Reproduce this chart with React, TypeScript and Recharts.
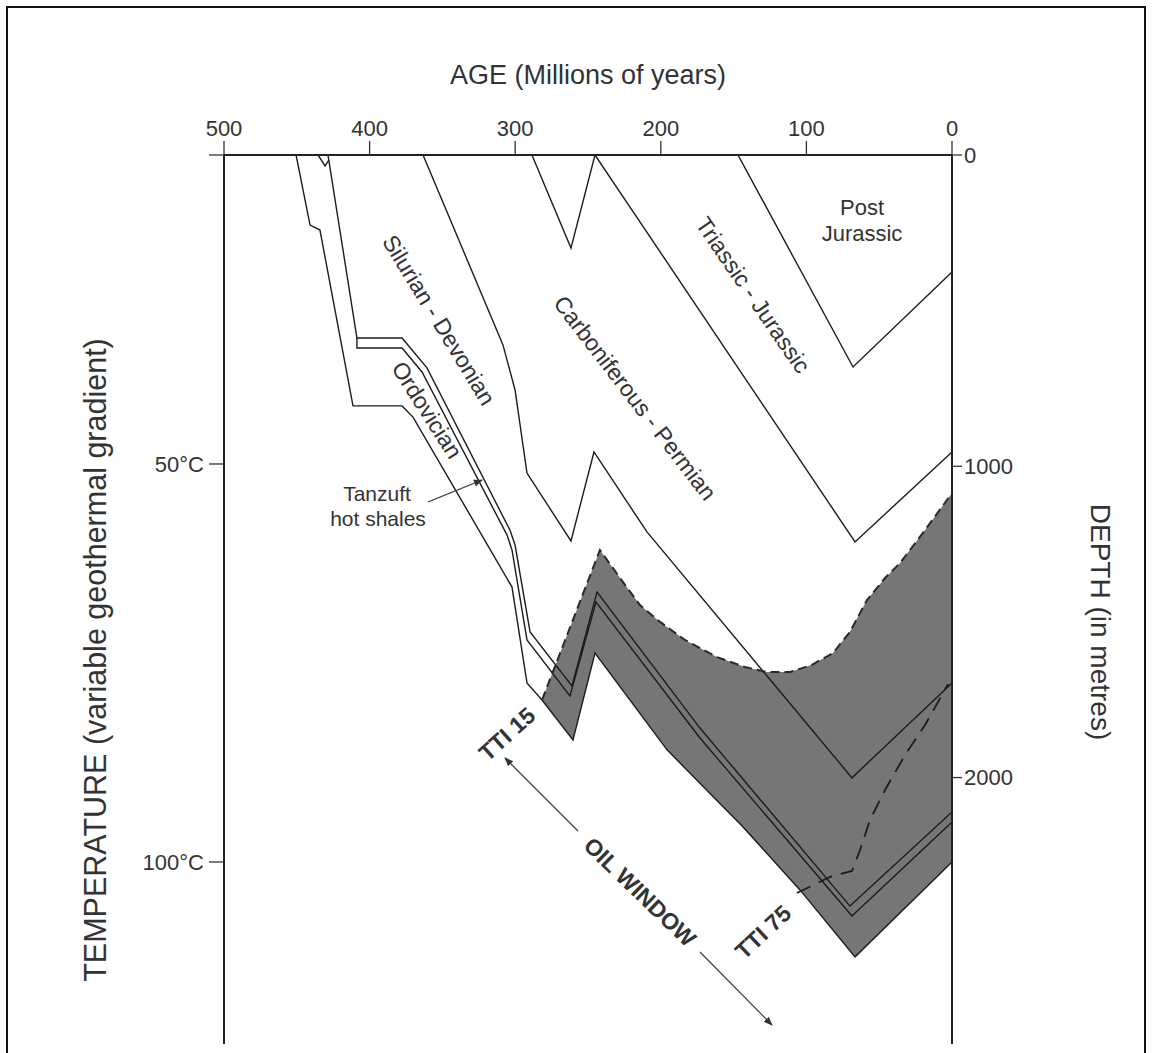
import React from 'react';
import { ComposedChart, Line, Area, XAxis, YAxis, ReferenceLine } from 'recharts';

// ---- axis ticks ----
const ageTicks = [500, 400, 300, 200, 100, 0];
const depthTicks = [0, 1000, 2000];
const tempTicks = [11.18, 50, 100];
const tempLabels: Record<string, string> = { '11.18': '', '50': '50°C', '100': '100°C' };
const ageDomain = [0, 500];
const depthDomain = [0, 2856];
const tempDomain = [11.18, 122.87];

// ---- horizons (age in Ma, depth in m) ----
const baseOrdovician = [
  { age: 450.5, depth: 0 },
  { age: 440.9, depth: 225 },
  { age: 434.1, depth: 241 },
  { age: 411.4, depth: 806 },
  { age: 377.7, depth: 806 },
  { age: 370.2, depth: 842 },
  { age: 302.2, depth: 1388 },
  { age: 291.9, depth: 1696 },
  { age: 281.6, depth: 1751 },
  { age: 260.3, depth: 1879 },
  { age: 245.2, depth: 1600 },
  { age: 195.7, depth: 1911 },
  { age: 143.5, depth: 2159 },
  { age: 104.4, depth: 2361 },
  { age: 66.6, depth: 2576 },
  { age: 0, depth: 2271 },
];
// the part of the base Ordovician that bounds the oil window from below
const baseOrdovicianLower = baseOrdovician.slice(8);

const tanzuftTop = [
  { age: 428.6, depth: 0 },
  { age: 408.7, depth: 588 },
  { age: 377.7, depth: 588 },
  { age: 360.6, depth: 684 },
  { age: 303.6, depth: 1205 },
  { age: 300.1, depth: 1253 },
  { age: 289.8, depth: 1532 },
  { age: 261.0, depth: 1706 },
  { age: 243.8, depth: 1404 },
  { age: 173.1, depth: 1841 },
  { age: 70.1, depth: 2413 },
  { age: 0, depth: 2111 },
];

const tanzuftBase = [
  { age: 408.7, depth: 588 },
  { age: 408.7, depth: 620 },
  { age: 377.7, depth: 620 },
  { age: 364.0, depth: 697 },
  { age: 305.6, depth: 1221 },
  { age: 302.2, depth: 1269 },
  { age: 291.9, depth: 1558 },
  { age: 262.4, depth: 1738 },
  { age: 244.5, depth: 1436 },
  { age: 173.1, depth: 1873 },
  { age: 68.7, depth: 2445 },
  { age: 0, depth: 2143 },
];

const tanzuftNotch = [
  { age: 435.4, depth: 0 },
  { age: 430.6, depth: 35 },
  { age: 427.9, depth: 16 },
];

const baseCarboniferous = [
  { age: 363.3, depth: 0 },
  { age: 308.4, depth: 610 },
  { age: 300.1, depth: 755 },
  { age: 291.9, depth: 1022 },
  { age: 261.7, depth: 1240 },
  { age: 245.9, depth: 954 },
  { age: 209.5, depth: 1211 },
  { age: 68.7, depth: 2001 },
  { age: 0, depth: 1696 },
];

const topPermian = [
  { age: 288.5, depth: 0 },
  { age: 261.7, depth: 299 },
  { age: 245.2, depth: 0 },
];

const baseTriassic = [
  { age: 245.2, depth: 0 },
  { age: 66.6, depth: 1243 },
  { age: 0, depth: 954 },
];

const basePostJurassic = [
  { age: 147.0, depth: 0 },
  { age: 68.0, depth: 681 },
  { age: 0, depth: 376 },
];

// ---- maturity lines ----
const tti15 = [
  { age: 281.6, depth: 1751 },
  { age: 241.8, depth: 1269 },
  { age: 228.0, depth: 1359 },
  { age: 214.3, depth: 1446 },
  { age: 200.5, depth: 1500 },
  { age: 183.4, depth: 1558 },
  { age: 161.4, depth: 1613 },
  { age: 142.2, depth: 1645 },
  { age: 127.1, depth: 1661 },
  { age: 111.3, depth: 1661 },
  { age: 96.2, depth: 1638 },
  { age: 81.7, depth: 1600 },
  { age: 70.1, depth: 1532 },
  { age: 58.4, depth: 1430 },
  { age: 46.0, depth: 1359 },
  { age: 35.7, depth: 1311 },
  { age: 18.5, depth: 1205 },
  { age: 0, depth: 1086 },
];

const tti75 = [
  { age: 106.5, depth: 2371 },
  { age: 83.8, depth: 2319 },
  { age: 68.7, depth: 2300 },
  { age: 63.2, depth: 2233 },
  { age: 56.3, depth: 2136 },
  { age: 46.0, depth: 2040 },
  { age: 32.3, depth: 1928 },
  { age: 18.5, depth: 1831 },
  { age: 2.7, depth: 1700 },
];

const horizons = [
  baseOrdovician,
  tanzuftTop,
  tanzuftBase,
  tanzuftNotch,
  baseCarboniferous,
  topPermian,
  baseTriassic,
  basePostJurassic,
];

const FONT = '"Liberation Sans", Arial, Helvetica, sans-serif';
const TXT = '#333';
const LINE = '#1c1c1c';
const GRAY = '#767676';

const W = 1152;
const H = 1053;

function Rot({ x, y, a, size = 23, bold = false, children }: any) {
  return (
    <text
      x={x}
      y={y}
      textAnchor="middle"
      dominantBaseline="central"
      transform={`rotate(${a} ${x} ${y})`}
      fontSize={size}
      fontWeight={bold ? 700 : 400}
      fill={TXT}
      fontFamily={FONT}
    >
      {children}
    </text>
  );
}

export default function App() {
  return (
    <div style={{ position: 'absolute', left: 0, top: 0, width: W, height: H, overflow: 'hidden', background: '#fff' }}>
      <div
        style={{
          position: 'absolute',
          left: 6,
          top: 6,
          width: 1140,
          height: 1070,
          border: '2px solid #111',
          boxSizing: 'border-box',
        }}
      />
      <div style={{ position: 'absolute', left: 0, top: 0 }}>
        <ComposedChart
          width={W}
          height={H}
          margin={{ top: 115, right: 120, bottom: 9, left: 144 }}
        >
          <XAxis
            xAxisId="age"
            dataKey="age"
            type="number"
            orientation="top"
            domain={ageDomain}
            reversed
            ticks={ageTicks}
            interval={0}
            height={40}
            tickSize={14}
            tickMargin={5}
            axisLine={{ stroke: '#222', strokeWidth: 2 }}
            tickLine={{ stroke: '#333', strokeWidth: 1.3 }}
            tick={{ fontSize: 22, fill: TXT, fontFamily: FONT }}
          />
          <YAxis
            yAxisId="temp"
            orientation="left"
            type="number"
            domain={tempDomain}
            reversed
            ticks={tempTicks}
            interval={0}
            width={80}
            tickSize={15}
            tickMargin={5}
            allowDataOverflow
            tickFormatter={(v: number) => tempLabels[String(v)] ?? ''}
            axisLine={{ stroke: '#222', strokeWidth: 2 }}
            tickLine={{ stroke: '#333', strokeWidth: 1.3 }}
            tick={{ fontSize: 22, fill: TXT, fontFamily: FONT }}
          />
          <YAxis
            yAxisId="depth"
            orientation="right"
            type="number"
            domain={depthDomain}
            reversed
            ticks={depthTicks}
            interval={0}
            width={80}
            tickSize={10}
            tickMargin={2}
            allowDataOverflow
            axisLine={{ stroke: '#222', strokeWidth: 2 }}
            tickLine={{ stroke: '#333', strokeWidth: 1.3 }}
            tick={{ fontSize: 22, fill: TXT, fontFamily: FONT, textAnchor: 'start' }}
          />

          {/* oil window shading: below TTI 15, above the base of the sediment pile */}
          <Area
            xAxisId="age"
            yAxisId="depth"
            data={tti15}
            dataKey="depth"
            type="linear"
            baseValue={2856}
            stroke="none"
            fill={GRAY}
            fillOpacity={1}
            isAnimationActive={false}
            dot={false}
            activeDot={false}
          />
          <Area
            xAxisId="age"
            yAxisId="depth"
            data={baseOrdovicianLower}
            dataKey="depth"
            type="linear"
            baseValue={2856}
            stroke="none"
            fill="#ffffff"
            fillOpacity={1}
            isAnimationActive={false}
            dot={false}
            activeDot={false}
          />

          {horizons.map((h, i) => (
            <Line
              key={i}
              xAxisId="age"
              yAxisId="depth"
              data={h}
              dataKey="depth"
              type="linear"
              stroke={LINE}
              strokeWidth={1.4}
              dot={false}
              activeDot={false}
              isAnimationActive={false}
            />
          ))}
          <Line
            xAxisId="age"
            yAxisId="depth"
            data={tti15}
            dataKey="depth"
            type="linear"
            stroke="#2a2a2a"
            strokeWidth={2}
            strokeDasharray="9 5"
            dot={false}
            activeDot={false}
            isAnimationActive={false}
          />
          <Line
            xAxisId="age"
            yAxisId="depth"
            data={tti75}
            dataKey="depth"
            type="linear"
            stroke="#1c1c1c"
            strokeWidth={1.8}
            strokeDasharray="15 9"
            dot={false}
            activeDot={false}
            isAnimationActive={false}
          />
          <ReferenceLine xAxisId="age" yAxisId="depth" x={0} stroke="#222" strokeWidth={2} />
          <ReferenceLine xAxisId="age" yAxisId="depth" x={500} stroke="#222" strokeWidth={2} />
        </ComposedChart>
      </div>

      <svg
        width={W}
        height={H}
        style={{ position: 'absolute', left: 0, top: 0, pointerEvents: 'none' }}
      >
        <defs>
          <marker id="ah" viewBox="0 0 10 10" refX="9" refY="5" markerWidth="9" markerHeight="9" orient="auto-start-reverse" markerUnits="userSpaceOnUse">
            <path d="M0,1 L10,5 L0,9 z" fill="#333" />
          </marker>
        </defs>
        <text x={588} y={75} textAnchor="middle" dominantBaseline="central" fontSize={27} fill={TXT} fontFamily={FONT}>
          AGE (Millions of years)
        </text>
        <Rot x={95} y={660} a={-90} size={30.5}>TEMPERATURE (variable geothermal gradient)</Rot>
        <Rot x={1100} y={622} a={90} size={28}>DEPTH (in metres)</Rot>

        <Rot x={439} y={320} a={58.6}>Silurian - Devonian</Rot>
        <Rot x={427} y={410} a={57.5}>Ordovician</Rot>
        <Rot x={635} y={398} a={52.5}>Carboniferous - Permian</Rot>
        <Rot x={753} y={295} a={55.6}>Triassic - Jurassic</Rot>
        <text x={862} y={215} textAnchor="middle" fontSize={22} fill={TXT} fontFamily={FONT}>Post</text>
        <text x={862} y={241} textAnchor="middle" fontSize={22} fill={TXT} fontFamily={FONT}>Jurassic</text>

        <text x={377} y={501} textAnchor="middle" fontSize={21} fill={TXT} fontFamily={FONT}>Tanzuft</text>
        <text x={378} y={526} textAnchor="middle" fontSize={21} fill={TXT} fontFamily={FONT}>hot shales</text>
        <line x1={428} y1={502} x2={482} y2={480} stroke="#333" strokeWidth={1.3} markerEnd="url(#ah)" />

        <Rot x={507} y={734} a={-42} size={23} bold>TTI 15</Rot>
        <Rot x={763} y={932} a={-43} size={23} bold>TTI 75</Rot>
        <Rot x={640} y={892} a={44} size={23} bold>OIL WINDOW</Rot>
        <line x1={505} y1={758} x2={578} y2={831} stroke="#444" strokeWidth={1.3} markerStart="url(#ah)" />
        <line x1={700} y1={952} x2={772} y2={1025} stroke="#444" strokeWidth={1.3} markerEnd="url(#ah)" />
      </svg>
    </div>
  );
}
